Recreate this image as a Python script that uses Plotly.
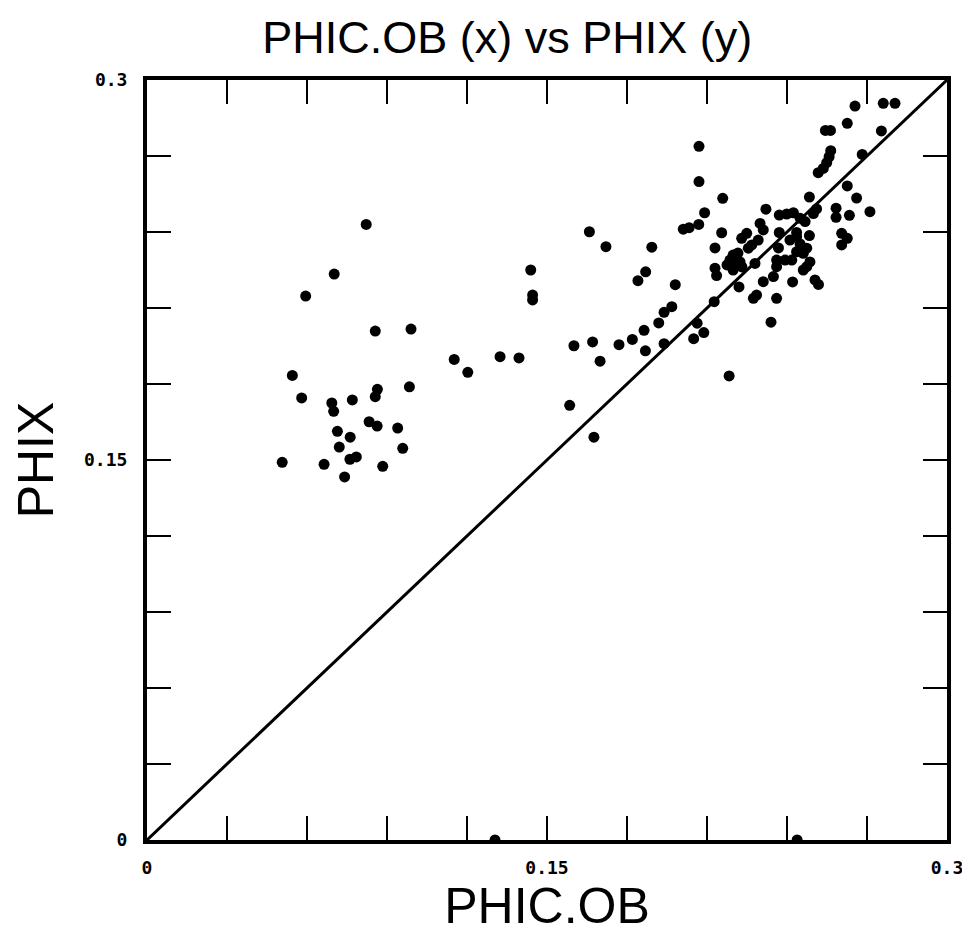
import plotly.graph_objects as go

# PHIC.OB (x) and PHIX (y) readings
phic_ob = [
    0.0822, 0.0702, 0.0595, 0.0856, 0.0990, 0.1152, 0.1203, 0.1324, 0.1395, 0.0545,
    0.0580, 0.0693, 0.0700, 0.0770, 0.0864, 0.0856, 0.0984, 0.0833, 0.0863, 0.0940,
    0.0714, 0.0762, 0.0721, 0.0959, 0.0761, 0.0785, 0.0507, 0.0664, 0.0884, 0.0741,
    0.1439, 0.1446, 0.1446, 0.1601, 0.1585, 0.1676, 0.1659, 0.1721, 0.1893, 0.1870,
    0.1841, 0.1981, 0.1968, 0.1939, 0.1919, 0.1864, 0.1820, 0.1770, 0.1671, 0.1699,
    0.1869, 0.1939, 0.2063, 0.2088, 0.2050, 0.2127, 0.2220, 0.2183,
    0.2070, 0.2070, 0.2159, 0.2091, 0.2069, 0.2033, 0.2011, 0.2155, 0.2130,
    0.2321, 0.2299, 0.2311, 0.2249, 0.2230, 0.2292, 0.2268, 0.2255, 0.2198, 0.2216,
    0.2186, 0.2205, 0.2224, 0.2198, 0.2175, 0.2231, 0.2280, 0.2130, 0.2136, 0.2311,
    0.2349, 0.2286, 0.2274, 0.2361, 0.2340,
    0.2371, 0.2399, 0.2424, 0.2449, 0.2468, 0.2484, 0.2511, 0.2499, 0.2371, 0.2484,
    0.2436, 0.2436, 0.2411, 0.2449, 0.2605, 0.2626, 0.2605, 0.2368, 0.2474, 0.2461,
    0.2436, 0.2418, 0.2361, 0.2393, 0.2361, 0.2486, 0.2461, 0.2474, 0.2421, 0.2505,
    0.2518,
    0.2655, 0.2761, 0.2805, 0.2626, 0.2754, 0.2544, 0.2563, 0.2564, 0.2558, 0.2549,
    0.2536, 0.2517, 0.2682, 0.2626, 0.2661, 0.2711, 0.2584, 0.2584, 0.2634,
    0.1305, 0.2438,
]
phix = [
    0.2430, 0.2234, 0.2147, 0.2009, 0.2017, 0.1897, 0.1846, 0.1908, 0.1903, 0.1834,
    0.1745, 0.1725, 0.1692, 0.1737, 0.1779, 0.1750, 0.1789, 0.1651, 0.1634, 0.1626,
    0.1613, 0.1590, 0.1551, 0.1546, 0.1503, 0.1512, 0.1491, 0.1483, 0.1475, 0.1433,
    0.2250, 0.2151, 0.2132, 0.1951, 0.1716, 0.1590, 0.2401, 0.2342, 0.2340, 0.2243,
    0.2208, 0.2192, 0.2105, 0.2083, 0.2041, 0.2012, 0.1976, 0.1955, 0.1966, 0.1890,
    0.1931, 0.1959, 0.2040, 0.2003, 0.1979, 0.2125, 0.2183, 0.1832,
    0.2738, 0.2599, 0.2533, 0.2476, 0.2430, 0.2417, 0.2411, 0.2397, 0.2337,
    0.2490, 0.2434, 0.2408, 0.2395, 0.2375, 0.2368, 0.2349, 0.2336, 0.2309, 0.2317,
    0.2289, 0.2278, 0.2282, 0.2250, 0.2270, 0.2262, 0.2276, 0.2257, 0.2228, 0.2204,
    0.2224, 0.2151, 0.2138, 0.2138, 0.2044,
    0.2467, 0.2471, 0.2476, 0.2454, 0.2441, 0.2538, 0.2491, 0.2473, 0.2398, 0.2386,
    0.2398, 0.2381, 0.2368, 0.2353, 0.2395, 0.2375, 0.2349, 0.2337, 0.2336, 0.2316,
    0.2322, 0.2289, 0.2289, 0.2289, 0.2263, 0.2282, 0.2250, 0.2263, 0.2203, 0.2211,
    0.2193,
    0.2897, 0.2908, 0.2908, 0.2829, 0.2799, 0.2801, 0.2801, 0.2721, 0.2697, 0.2674,
    0.2651, 0.2634, 0.2706, 0.2582, 0.2534, 0.2480, 0.2494, 0.2458, 0.2466,
    0.0, 0.0,
]

# 1:1 reference line
diag = [0, 0.3]

# ticks every 0.03, labelled only at the ends and middle
tick_vals = [0, 0.03, 0.06, 0.09, 0.12, 0.15, 0.18, 0.21, 0.24, 0.27, 0.3]
tick_text = ["0", "", "", "", "", "0.15", "", "", "", "", "0.3"]

fig = go.Figure()

fig.add_trace(go.Scatter(
    x=diag, y=diag, mode="lines",
    line=dict(color="black", width=3),
    hoverinfo="skip",
))

fig.add_trace(go.Scatter(
    x=phic_ob, y=phix, mode="markers",
    marker=dict(color="black", size=11),
))

tick_font = dict(family="DejaVu Sans Mono", size=18, color="black", weight="bold")
title_font = dict(family="Liberation Sans", size=50, color="black")

axis_style = dict(
    range=[0, 0.3],
    tickvals=tick_vals,
    ticktext=tick_text,
    ticks="inside",
    ticklen=24,
    tickwidth=2,
    tickcolor="black",
    showline=True,
    linewidth=4,
    linecolor="black",
    mirror="allticks",
    showgrid=False,
    zeroline=False,
    automargin=False,
    ticklabeloverflow="allow",
    tickfont=tick_font,
)

# page body adds an 8px margin top/left, so the figure is shifted by that
fig.update_layout(
    width=962,
    height=928,
    margin=dict(l=139, r=23, t=72, b=96, autoexpand=False),
    paper_bgcolor="white",
    plot_bgcolor="white",
    showlegend=False,
    title=dict(
        text="PHIC.OB (x) vs PHIX (y)",
        font=dict(family="Liberation Sans", size=45, color="black"),
        x=0.519, xanchor="center",
        y=0.968, yanchor="middle",
        automargin=False,
    ),
    xaxis=dict(axis_style, title=dict(text="PHIC.OB", font=title_font, standoff=8),
               ticklabelstandoff=8),
    yaxis=dict(axis_style, title=dict(text="PHIX", font=title_font, standoff=19),
               ticklabelstandoff=12),
)

fig.write_html("out.html")
